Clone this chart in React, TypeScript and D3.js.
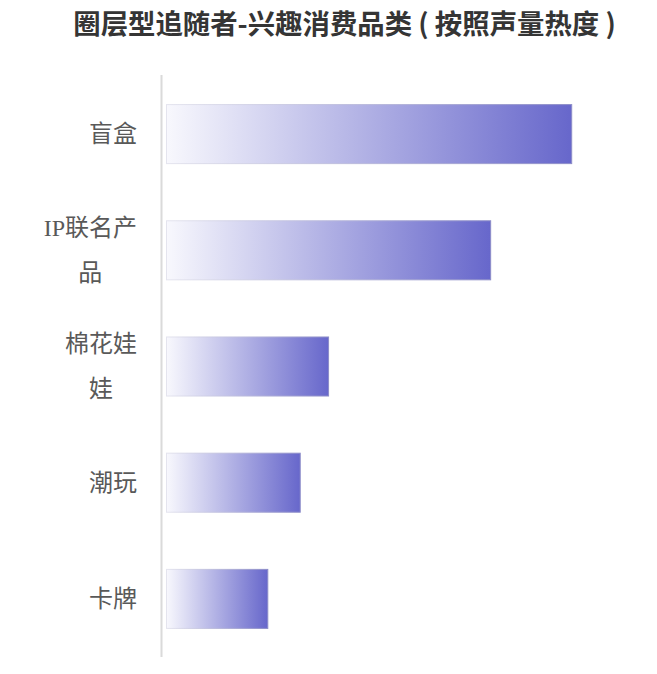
import React from "react";
import * as d3 from "d3";

const categories = ["盲盒", "IP联名产品", "棉花娃娃", "潮玩", "卡牌"];
const values = [100, 80, 40, 33, 25];
const tickLabels = [["盲盒"], ["IP联名产", "品"], ["棉花娃", "娃"], ["潮玩"], ["卡牌"]];
const title = "圈层型追随者-兴趣消费品类 ( 按照声量热度 )";

const W = 657;
const H = 674;
const LABEL_FONT = '"Liberation Serif", "Noto Sans CJK SC", serif';

let ctx: CanvasRenderingContext2D | null = null;
function measure(s: string, size: number) {
  if (!ctx) ctx = document.createElement("canvas").getContext("2d");
  if (!ctx) return s.length * size;
  ctx.font = `${size}px ${LABEL_FONT}`;
  return ctx.measureText(s).width;
}

export default function App() {
  const y = d3
    .scaleBand<string>()
    .domain(categories)
    .range([76, 657])
    .paddingInner(0.492)
    .paddingOuter(0.246);
  const x = d3.scaleLinear().domain([0, 100]).range([166.5, 571.7]);
  const lineH = 45;
  const fs = 24;
  const right = 137;

  return (
    <div style={{ position: "absolute", left: 0, top: 0 }}>
      <svg width={W} height={H} style={{ display: "block", background: "#fff" }}>
        <defs>
          <linearGradient id="barGrad" x1="0" y1="0" x2="1" y2="0">
            <stop offset="0%" stopColor="#f8f8fd" />
            <stop offset="100%" stopColor="#6767cb" />
          </linearGradient>
          <linearGradient id="barStroke" x1="0" y1="0" x2="1" y2="0">
            <stop offset="0%" stopColor="#e4e4ee" />
            <stop offset="100%" stopColor="#8c8cc8" />
          </linearGradient>
        </defs>
        <text
          x={344.5}
          y={21.5}
          textAnchor="middle"
          dominantBaseline="central"
          fontFamily='"Noto Sans CJK SC", sans-serif'
          fontWeight="bold"
          fontSize={27.4}
          fill="#353535"
          style={{ whiteSpace: "pre" }}
        >
          {title}
        </text>
        <line x1={161.5} x2={161.5} y1={75} y2={657} stroke="#dadada" strokeWidth={2} />
        {categories.map((c, i) => (
          <rect
            key={c}
            x={x(0)}
            y={y(c)!}
            width={x(values[i]) - x(0)}
            height={y.bandwidth()}
            fill="url(#barGrad)"
            stroke="url(#barStroke)"
            strokeWidth={1}
          />
        ))}
        {categories.map((c, i) => {
          const lines = tickLabels[i];
          const cy = y(c)! + y.bandwidth() / 2;
          const start = cy - ((lines.length - 1) * lineH) / 2;
          const maxW = Math.max(...lines.map((l) => measure(l, fs)));
          const cx = right - maxW / 2;
          return (
            <text
              key={c}
              textAnchor="middle"
              dominantBaseline="central"
              fontFamily={LABEL_FONT}
              fontSize={fs}
              fill="#595959"
            >
              {lines.map((l, j) => (
                <tspan key={j} x={cx} y={start + j * lineH}>
                  {l}
                </tspan>
              ))}
            </text>
          );
        })}
      </svg>
    </div>
  );
}
